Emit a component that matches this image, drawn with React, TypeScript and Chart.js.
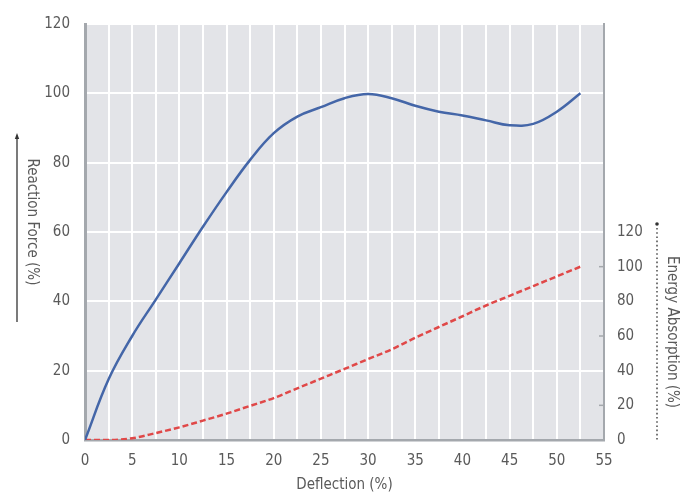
import React, { useEffect, useRef } from "react";
import { Chart, registerables } from "chart.js";

Chart.register(...registerables);

const deflection = [0, 2.5, 5, 7.5, 10, 12.5, 15, 17.5, 20, 22.5, 25, 27.5, 30, 32.5, 35, 37.5, 40, 42.5, 45, 47.5, 50, 52.5];
const reactionForce = [0, 17.5, 30, 40.5, 51, 61.5, 71.5, 80.8, 88.5, 93.3, 96, 98.6, 99.8, 98.6, 96.4, 94.7, 93.6, 92.2, 90.8, 91.2, 94.7, 100];
const energyAbsorption = [0, 0, 1, 4, 7.3, 11.2, 15.2, 19.7, 24.2, 29.8, 35.4, 41, 46.7, 52.3, 59, 65.2, 71.4, 77.6, 83.2, 88.8, 94.4, 100];
const leftTicks = [0, 20, 40, 60, 80, 100, 120];
const rightTicks = [0, 20, 40, 60, 80, 100, 120];
const rightMinorMarks = [20, 60, 100];
const xLabelStep = 5;

const FONT = "'Liberation Sans Narrow', 'DejaVu Sans Condensed', 'Arial Narrow', sans-serif";
const TEXT = "#5a5a5a";
const AXIS = "#a4a8ad";

const decorPlugin = {
  id: "decor",
  beforeDraw(chart: any) {
    const { ctx, chartArea } = chart;
    ctx.save();
    ctx.fillStyle = "#e3e4e8";
    ctx.fillRect(chartArea.left, chartArea.top, chartArea.right - chartArea.left, chartArea.bottom - chartArea.top);
    ctx.restore();
  },
  afterDraw(chart: any) {
    const { ctx, chartArea } = chart;
    const y2 = chart.scales.y2;
    ctx.save();
    ctx.strokeStyle = AXIS;
    ctx.lineWidth = 1.5;
    rightMinorMarks.forEach((v) => {
      const py = y2.getPixelForValue(v);
      ctx.beginPath();
      ctx.moveTo(chartArea.right - 5, py);
      ctx.lineTo(chartArea.right, py);
      ctx.stroke();
    });

    ctx.fillStyle = TEXT;
    ctx.font = `15px ${FONT}`;
    ctx.textAlign = "center";
    ctx.textBaseline = "middle";
    ctx.fillText("Deflection (%)", (chartArea.left + chartArea.right) / 2, 485);

    ctx.save();
    ctx.translate(32, 222);
    ctx.rotate(Math.PI / 2);
    ctx.fillText("Reaction Force (%)", 0, 0);
    ctx.restore();

    ctx.save();
    ctx.translate(672, 332);
    ctx.rotate(Math.PI / 2);
    ctx.fillText("Energy Absorption (%)", 0, 0);
    ctx.restore();

    ctx.strokeStyle = "#333";
    ctx.fillStyle = "#333";
    ctx.lineWidth = 1.3;
    ctx.beginPath();
    ctx.moveTo(17, 322);
    ctx.lineTo(17, 138);
    ctx.stroke();
    ctx.beginPath();
    ctx.moveTo(17, 133);
    ctx.lineTo(14.8, 139);
    ctx.lineTo(19.2, 139);
    ctx.closePath();
    ctx.fill();

    ctx.strokeStyle = "#555";
    ctx.fillStyle = "#333";
    ctx.lineWidth = 1.6;
    ctx.setLineDash([1.6, 2.6]);
    ctx.beginPath();
    ctx.moveTo(657, 228);
    ctx.lineTo(657, 441);
    ctx.stroke();
    ctx.setLineDash([]);
    ctx.beginPath();
    ctx.arc(657, 224, 1.8, 0, Math.PI * 2);
    ctx.fill();
    ctx.restore();
  },
};

export default function App() {
  const ref = useRef<HTMLCanvasElement>(null);
  useEffect(() => {
    document.body.style.margin = "0";
    const chart = new Chart(ref.current as HTMLCanvasElement, {
      type: "line",
      data: {
        datasets: [
          {
            label: "Reaction Force",
            data: deflection.map((x, i) => ({ x, y: reactionForce[i] })),
            borderColor: "#4466a8",
            borderWidth: 2.5,
            pointRadius: 0,
            tension: 0.4,
            yAxisID: "y",
          },
          {
            label: "Energy Absorption",
            data: deflection.map((x, i) => ({ x, y: energyAbsorption[i] })),
            borderColor: "#e04848",
            borderWidth: 2.5,
            borderDash: [6, 3],
            pointRadius: 0,
            cubicInterpolationMode: "monotone",
            yAxisID: "y2",
          },
        ],
      },
      options: {
        animation: false,
        responsive: false,
        events: [],
        layout: { padding: { top: 13, left: 0, right: 0, bottom: 0 } },
        plugins: { legend: { display: false }, tooltip: { enabled: false } },
        scales: {
          x: {
            type: "linear",
            min: 0,
            max: 55,
            ticks: {
              stepSize: 2.5,
              autoSkip: false,
              maxRotation: 0,
              padding: 12,
              color: TEXT,
              font: { family: FONT, size: 15 },
              callback: (v: any) => (Number(v) % xLabelStep === 0 ? String(v) : ""),
            },
            grid: { color: "#ffffff", lineWidth: 2, drawTicks: false },
            border: { color: AXIS, width: 2.5 },
            afterFit: (s: any) => {
              s.height = 63;
            },
          },
          y: {
            position: "left",
            min: 0,
            max: 120,
            ticks: {
              stepSize: 20,
              padding: 15,
              color: TEXT,
              font: { family: FONT, size: 15 },
              callback: (v: any) => (leftTicks.includes(Number(v)) ? String(v) : ""),
            },
            grid: { color: "#ffffff", lineWidth: 2, drawTicks: false },
            border: { color: AXIS, width: 3 },
            afterFit: (s: any) => {
              s.width = 85;
            },
          },
          y2: {
            position: "right",
            min: 0,
            max: 240,
            ticks: {
              stepSize: 20,
              padding: 13,
              color: TEXT,
              font: { family: FONT, size: 15 },
              callback: (v: any) => (rightTicks.includes(Number(v)) ? String(v) : ""),
            },
            grid: { drawOnChartArea: false, drawTicks: false },
            border: { color: AXIS, width: 2 },
            afterFit: (s: any) => {
              s.width = 88;
            },
          },
        },
      },
      plugins: [decorPlugin],
    });
    return () => chart.destroy();
  }, []);
  return (
    <div style={{ width: 692, height: 503 }}>
      <canvas ref={ref} width={692} height={503} style={{ display: "block" }} />
    </div>
  );
}
